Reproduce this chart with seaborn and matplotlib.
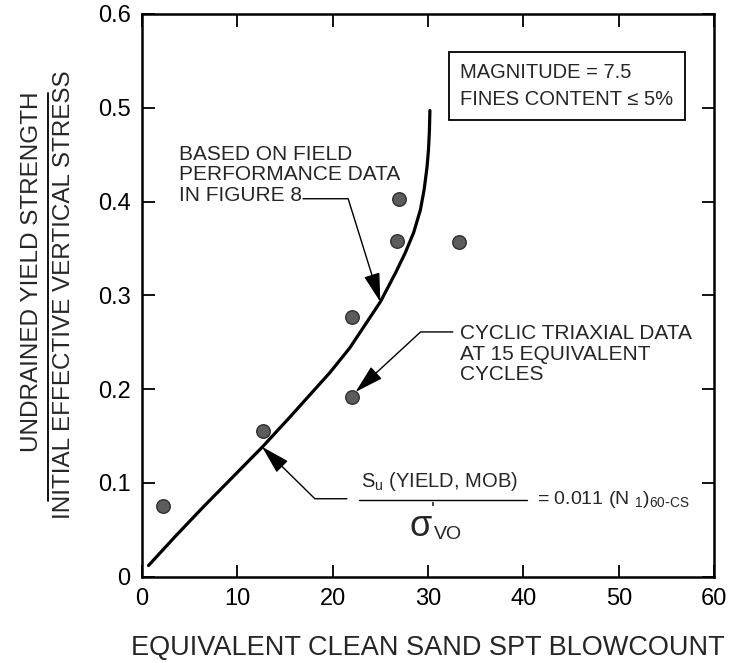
import matplotlib
matplotlib.use("Agg")
import matplotlib.pyplot as plt
import seaborn as sns
import pandas as pd

# ---- data ----
curve_n = [0.7, 3.5, 6.4, 9.5, 12.6, 15.5, 19.7, 21.8, 25.0, 26.6, 27.6, 28.5, 29.2,
           29.6, 29.9, 30.05, 30.15, 30.2]
curve_ratio = [0.012, 0.043, 0.074, 0.106, 0.138, 0.170, 0.2175, 0.244, 0.293, 0.324,
               0.345, 0.367, 0.391, 0.413, 0.437, 0.455, 0.476, 0.497]
pts_n = [2.2, 12.7, 22.0, 22.0, 26.8, 27.0, 33.2]
pts_ratio = [0.075, 0.155, 0.277, 0.192, 0.358, 0.403, 0.357]
x_ticks = [0, 10, 20, 30, 40, 50, 60]
y_ticks = [0, 0.1, 0.2, 0.3, 0.4, 0.5, 0.6]
y_tick_labels = ["0", "0.1", "0.2", "0.3", "0.4", "0.5", "0.6"]

sns.set_theme(style="ticks")
plt.rcParams["font.family"] = ["Liberation Sans", "DejaVu Sans"]

fig = plt.figure(figsize=(7.31, 6.63), dpi=100)
ax = fig.add_axes([0.194, 0.130, 0.783, 0.849])

curve = pd.DataFrame({"n": curve_n, "r": curve_ratio})
pts = pd.DataFrame({"n": pts_n, "r": pts_ratio})

sns.lineplot(data=curve, x="n", y="r", sort=False, estimator=None, color="black",
             linewidth=2.3, ax=ax)
sns.scatterplot(data=pts, x="n", y="r", s=95, color="#5c5c5c", edgecolor="#303030",
                linewidth=1.0, ax=ax, zorder=3)

ax.set_xlim(0, 60)
ax.set_ylim(0, 0.6)
ax.set_xticks(x_ticks)
ax.set_xticklabels([str(v) for v in x_ticks])
ax.set_yticks(y_ticks)
ax.set_yticklabels(y_tick_labels)
ax.tick_params(direction="in", length=9, width=1.3, top=True, right=True,
               labelsize=17, pad=8, colors="black")
for sp in ax.spines.values():
    sp.set_linewidth(1.8)
    sp.set_color("black")

ax.set_xlabel("EQUIVALENT CLEAN SAND SPT BLOWCOUNT", fontsize=19.5, labelpad=18)
ax.set_ylabel("")

# two-line y label with fraction bar
fig.text(0.044, 0.59, "UNDRAINED YIELD STRENGTH", rotation=90, fontsize=17.5,
         ha="center", va="center")
fig.text(0.087, 0.555, "INITIAL EFFECTIVE VERTICAL STRESS", rotation=90, fontsize=17.5,
         ha="center", va="center")
fig.add_artist(plt.Line2D([0.065, 0.065], [0.245, 0.86], transform=fig.transFigure,
                          color="black", linewidth=1.3))

# info box
ax.text(33.4, 0.523, "MAGNITUDE = 7.5\nFINES CONTENT \u2264 5%", fontsize=14.5,
        ha="left", va="center", linespacing=1.55,
        bbox=dict(boxstyle="square,pad=0.55", fc="white", ec="black", lw=1.3))

arrow_kw = dict(arrowstyle="-|>,head_length=0.9,head_width=0.25", color="black",
                lw=1.0, shrinkA=0, shrinkB=0, mutation_scale=20)

# field-performance annotation
ax.text(3.9, 0.4286, "BASED ON FIELD\nPERFORMANCE DATA\nIN FIGURE 8", fontsize=15,
        ha="left", va="center", linespacing=1.1)
ax.annotate("", xy=(25.0, 0.293), xytext=(16.9, 0.403),
            arrowprops=dict(connectionstyle="angle,angleA=0,angleB=107.3,rad=0", **arrow_kw))

# cyclic triaxial annotation
ax.text(33.4, 0.237, "CYCLIC TRIAXIAL DATA\nAT 15 EQUIVALENT\nCYCLES", fontsize=15,
        ha="left", va="center", linespacing=1.1)
ax.annotate("", xy=(22.4, 0.197), xytext=(32.6, 0.261),
            arrowprops=dict(connectionstyle="angle,angleA=0,angleB=42.7,rad=0", **arrow_kw))

# formula annotation
ax.annotate("", xy=(12.6, 0.1386), xytext=(21.5, 0.0832),
            arrowprops=dict(connectionstyle="angle,angleA=0,angleB=135.5,rad=0", **arrow_kw))
ax.plot([22.8, 40.4], [0.0822, 0.0822], color="black", lw=1.0)
ax.text(31.2, 0.096, r"S$_\mathregular{u}$ (YIELD, MOB)", fontsize=14.5, ha="center",
        va="baseline")
ax.text(29.2, 0.054, "\u03c3", fontsize=26, ha="center", va="center")
ax.text(30.3, 0.071, "'", fontsize=15, ha="left", va="center")
ax.text(30.6, 0.045, "VO", fontsize=14, ha="left", va="center")
ax.text(41.4, 0.0822, r"= 0.011 (N $_\mathregular{1}$)$_\mathregular{60\text{-}CS}$",
        fontsize=14, ha="left", va="center")

fig.savefig("out.png", dpi=100)
